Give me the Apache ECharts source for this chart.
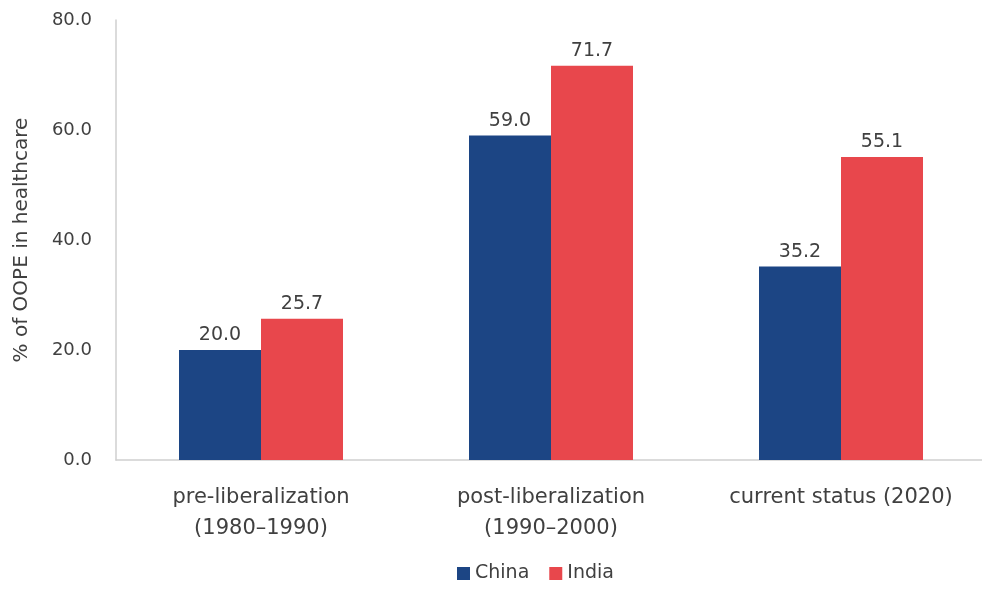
<!DOCTYPE html>
<html>
<head>
<meta charset="utf-8">
<script src="https://cdn.jsdelivr.net/npm/echarts@6/dist/echarts.min.js"></script>
<style>
  html, body { margin: 0; padding: 0; background: #fff; }
  #chart { width: 982px; height: 589px; }
</style>
</head>
<body>
<div id="chart"></div>
<script>
const categories = ['pre-liberalization\n(1980–1990)', 'post-liberalization\n(1990–2000)', 'current status (2020)'];
const china = [20.0, 59.0, 35.2];
const india = [25.7, 71.7, 55.1];
const seriesNames = ['China', 'India'];
const colors = ['#1C4584', '#E8474C'];

const chart = echarts.init(document.getElementById('chart'));
const font = 'DejaVu Sans';
const labelStyle = {
  show: true,
  position: 'top',
  formatter: (p) => p.value.toFixed(1),
  fontFamily: font,
  fontSize: 19,
  color: '#404040',
  distance: 5
};

chart.setOption({
  animation: false,
  color: colors,
  grid: { left: 116, right: -4, top: 20, bottom: 129, containLabel: false, outerBoundsMode: 'none' },
  legend: {
    bottom: 1,
    left: 452,
    itemWidth: 13,
    itemHeight: 13,
    itemGap: 20,
    icon: 'rect',
    textStyle: { fontFamily: font, fontSize: 19, color: '#404040' },
    data: seriesNames
  },
  xAxis: {
    type: 'category',
    data: categories,
    axisLine: { lineStyle: { color: '#cfcfcf', width: 1.5 } },
    axisTick: { show: false },
    axisLabel: {
      interval: 0,
      hideOverlap: false,
      fontFamily: font,
      fontSize: 21,
      color: '#404040',
      lineHeight: 31,
      margin: 22
    }
  },
  yAxis: {
    type: 'value',
    min: 0,
    max: 80,
    interval: 20,
    name: '% of OOPE in healthcare',
    nameLocation: 'middle',
    nameGap: 84,
    nameTextStyle: { fontFamily: font, fontSize: 20, color: '#404040' },
    axisLine: { show: true, lineStyle: { color: '#cfcfcf', width: 1.5 } },
    axisTick: { show: false },
    splitLine: { show: false },
    axisLabel: {
      fontFamily: font,
      fontSize: 18,
      color: '#404040',
      margin: 24,
      formatter: (v) => v.toFixed(1)
    }
  },
  series: [
    {
      name: seriesNames[0],
      type: 'bar',
      data: china,
      barWidth: 82,
      barGap: '0%',
      label: labelStyle
    },
    {
      name: seriesNames[1],
      type: 'bar',
      data: india,
      barWidth: 82,
      barGap: '0%',
      label: labelStyle
    }
  ]
});
</script>
</body>
</html>
